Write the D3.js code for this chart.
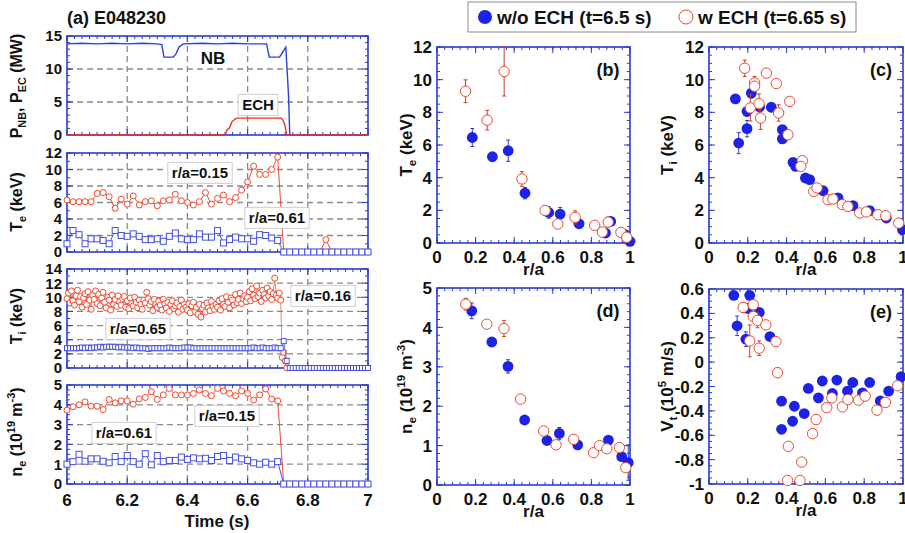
<!DOCTYPE html>
<html>
<head>
<meta charset="utf-8">
<script src="https://cdn.jsdelivr.net/npm/d3@7"></script>
<style>
body{margin:0;background:#fff}
text{font-family:"Liberation Sans",Arial,sans-serif;font-weight:bold;fill:#111}
</style>
</head>
<body>
<script>
// ---- (a) time traces, shot E048230 ----
const nbT = [6.0,6.05,6.1,6.15,6.2,6.25,6.3,6.315,6.322,6.353,6.362,6.372,6.386,6.45,6.5,6.55,6.6,6.663,6.672,6.706,6.716,6.727,6.736,6.74,7.0]
const nbV = [13.8,13.9,13.8,13.9,13.8,13.9,13.8,13.7,11.8,11.8,12.3,13.3,13.8,13.9,13.8,13.9,13.8,13.8,11.8,11.8,12.5,13.3,6,0,0]
const echT = [6.0,6.525,6.532,6.54,6.548,6.556,6.563,6.712,6.718,6.724,6.73,7.0]
const echV = [0,0,0.8,1.1,2.0,2.3,2.55,2.55,2.2,1.5,0,0]

// Te, ne sampled every 20 ms from 6.0 s
const t20Start = 6.0, t20Step = 0.02
const teCore = [6.3,6.1,6.1,6.1,6.1,7.1,7.2,6.7,5.3,6.4,5.8,6.8,5.7,6.1,6.2,5.6,6.2,6.3,7.0,6.2,6.0,5.7,6.1,7.2,5.8,6.5,6.9,6.1,6.6,7.5,8.5,10.4,9.4,9.4,10.0,11.5,
  0,0,0,0,0,0,0,1.5,0,0,0,0,0,0,0]
const teEdge = [1.0,2.6,2.1,1.0,1.6,1.6,1.4,1.0,2.6,2.0,1.9,2.2,1.9,1.5,1.5,1.6,1.3,1.9,2.3,1.6,1.5,1.5,2.2,1.8,1.8,2.6,1.1,1.5,1.8,1.6,1.6,1.3,2.1,2.0,1.7,1.4,
  0,0,0,0,0,0,0,0,0,0,0,0,0,0,0]
const neCore = [3.73,3.9,4.0,4.15,3.93,3.93,3.76,4.27,4.1,4.2,4.2,4.03,4.3,4.37,4.66,4.27,4.5,4.83,4.5,4.5,4.5,4.57,4.75,4.57,4.46,4.83,4.7,4.58,4.46,4.7,4.58,4.24,4.5,4.8,4.29,4.2,
  0,0,0,0,0,0,0,0,0,0,0,0,0,0,0]
const neEdge = [1.0,1.13,1.5,1.15,1.27,1.27,1.15,1.07,1.39,1.13,1.44,1.13,1.0,1.53,0.97,1.44,1.13,1.19,1.19,1.36,1.24,1.32,1.27,1.3,1.19,1.39,1.44,1.19,1.36,1.27,1.19,1.07,1.0,1.1,1.0,1.13,
  0,0,0,0,0,0,0,0,0,0,0,0,0,0,0]

// Ti core (r/a=0.16) every 5 ms, Ti edge (r/a=0.65) every 10 ms
const tiCoreStart = 6.0, tiCoreStep = 0.005
const tiCore = [
  9.8,10.6,9.2,10.9,9.5,8.9,10.2,11.0,9.4,10.1,8.6,9.9,10.5,9.0,10.8,9.6,8.3,10.3,9.7,10.9,
  9.1,10.4,8.8,9.9,10.7,9.3,8.5,10.0,9.6,8.2,10.3,9.0,9.7,8.7,10.2,9.4,8.9,9.8,10.1,8.6,
  9.5,8.4,9.9,9.1,8.8,10.0,9.3,8.5,9.6,9.0,8.3,9.6,9.2,10.7,9.8,8.9,9.4,8.1,9.7,9.0,
  8.6,9.4,8.9,8.2,9.7,9.1,8.5,9.3,8.0,9.0,9.5,8.4,8.8,9.2,7.9,8.7,9.6,8.3,9.0,8.6,
  8.2,9.1,7.8,8.8,9.3,8.0,8.6,7.6,9.0,7.2,8.4,8.9,7.9,9.2,8.5,8.1,9.4,8.7,8.3,9.0,
  8.6,9.5,8.2,9.8,9.0,8.7,10.1,9.3,8.5,9.9,9.6,8.9,10.4,9.2,9.7,10.6,9.1,9.8,10.2,9.4,
  10.0,10.8,9.5,11.2,10.3,9.8,11.6,10.1,10.6,9.4,11.0,10.4,9.9,11.3,10.2,10.8,9.7,10.5,12.7,10.3,9.9,10.6,9.6,
  1.5,2.2,1.0,0]
const tiEdgeStart = 6.0, tiEdgeStep = 0.01
const tiEdge = [
  2.8,2.8,2.8,2.8,2.8,2.9,2.8,2.9,2.8,2.9,
  2.9,3.0,2.9,3.0,3.0,3.0,3.0,2.9,3.0,2.9,
  2.9,2.9,2.8,2.9,2.8,2.8,2.8,2.7,2.8,2.8,
  2.8,2.8,2.8,2.8,2.9,2.8,2.8,2.8,2.8,2.9,
  2.9,2.9,2.8,2.8,2.8,2.8,2.8,2.8,2.8,2.8,
  2.8,2.8,2.8,2.8,2.8,2.8,2.8,2.8,2.8,2.8,
  2.8,2.8,2.9,2.8,2.8,2.9,2.8,2.8,2.8,2.9,
  2.8,2.8,3.8,1.0,
  0,0,0,0,0,0,0,0,0,0,0,0,0,0,0,0,0,0,0,0,0,0,0,0,0,0,0]

// ---- profiles vs r/a : blue = w/o ECH, red = w ECH ----
const teBlueR = [0.183,0.287,0.369,0.456,0.579,0.638,0.736,0.873,0.9,0.974,1.0]
const teBlue = [6.46,5.28,5.65,3.05,1.87,1.77,1.18,0.61,1.32,0.51,0.1]
const teBlueErr = [0.55,0.2,0.65,0.35,0.35,0.4,0,0,0,0,0]
const teRedR = [0.148,0.26,0.348,0.44,0.56,0.626,0.716,0.817,0.857,0.887,0.953,0.983]
const teRed = [9.29,7.52,10.5,3.92,1.99,1.16,1.57,1.08,0.67,1.28,0.65,0.35]
const teRedErr = [0.7,0.6,1.5,0.45,0.3,0,0.4,0,0,0.3,0,0]

const tiBlueR = [0.136,0.153,0.196,0.196,0.218,0.261,0.321,0.378,0.378,0.433,0.447,0.497,0.519,0.588,0.665,0.742,0.828,0.914,0.997]
const tiBlue = [8.82,6.12,7.0,8.06,9.18,8.33,8.31,6.94,6.37,4.94,4.69,3.98,3.88,3.2,2.76,2.29,1.98,1.53,0.82]
const tiBlueErr = [0,0.65,0.5,0.3,0.3,0,0,0,0,0,0,0,0,0,0,0,0,0,0]
const tiRedR = [0.184,0.235,0.235,0.213,0.258,0.266,0.296,0.347,0.359,0.416,0.407,0.481,0.473,0.54,0.557,0.613,0.639,0.687,0.716,0.777,0.811,0.871,0.911,0.978]
const tiRed = [10.7,9.8,9.6,8.27,8.53,7.65,10.4,9.76,7.96,8.67,6.63,5.04,4.69,3.16,3.37,2.65,2.69,2.35,2.24,1.84,1.9,1.73,1.67,1.22]
const tiRedErr = [0.5,0.4,0,0.8,0.6,0.7,0,0,0.5,0,0,0,0,0,0,0,0,0,0,0,0,0,0,0]

const neBlueR = [0.18,0.284,0.368,0.454,0.57,0.634,0.729,0.888,0.957,0.991]
const neBlue = [4.42,3.63,3.01,1.65,1.13,1.31,1.02,1.14,0.72,0.57]
const neBlueErr = [0.2,0,0.17,0,0,0.15,0,0,0,0.45]
const neRedR = [0.149,0.258,0.347,0.433,0.553,0.617,0.708,0.811,0.842,0.88,0.945,0.978]
const neRed = [4.59,4.08,3.97,2.18,1.37,1.02,1.16,0.82,1.0,0.92,0.95,0.44]
const neRedErr = [0.15,0,0.2,0,0,0,0,0,0,0,0,0]

const vtBlueR = [0.128,0.145,0.2,0.21,0.259,0.19,0.314,0.374,0.374,0.44,0.431,0.491,0.512,0.564,0.584,0.636,0.659,0.714,0.741,0.791,0.828,0.883,0.926,0.99]
const vtBlue = [0.548,0.298,0.44,0.548,0.408,0.188,0.21,-0.32,-0.551,-0.362,-0.485,-0.422,-0.216,-0.293,-0.155,-0.257,-0.147,-0.238,-0.167,-0.252,-0.167,-0.318,-0.238,-0.12]
const vtBlueErr = [0,0.08,0,0,0,0.06,0,0,0,0,0,0,0,0,0,0,0,0,0,0,0,0,0,0]
const vtRedR = [0.176,0.228,0.228,0.25,0.293,0.21,0.259,0.345,0.353,0.409,0.405,0.469,0.478,0.534,0.552,0.607,0.633,0.688,0.716,0.771,0.805,0.866,0.909,0.972]
const vtRed = [0.449,0.471,0.375,0.342,0.306,0.174,0.114,0.169,-0.087,-0.691,-0.971,-0.971,-0.82,-0.587,-0.471,-0.373,-0.293,-0.367,-0.307,-0.312,-0.279,-0.394,-0.331,-0.194]
const vtRedErr = [0.04,0,0,0.06,0,0.13,0.06,0,0.04,0,0,0,0,0,0,0,0,0,0,0,0,0,0,0]

const legendLabels = ["w/o ECH (t=6.5 s)", "w ECH (t=6.65 s)"]

// ---- styles ----
const frameCol = "#2b3cd0"
const blueMk = "#1c22e6", redMk = "#ea4a30"
const blueLn = "#4650e0", redLn = "#f04a32"

const svg = d3.select("body").append("svg").attr("width", 905).attr("height", 533)

const series = (start, step, vals) => vals.map((v, i) => [start + i * step, v])
const pairs = (xs, ys, es) => xs.map((x, i) => ({x, y: ys[i], e: es ? es[i] : 0}))
const fmt = v => String(+v.toFixed(2))

// text with sub / superscripts: parts = [[str, shift]] shift -1 sub, 1 sup
function rich(sel, parts, size) {
	let cur = 0
	parts.forEach(([s, sh]) => {
		const off = sh < 0 ? 4 : sh > 0 ? -7 : 0
		sel.append("tspan").attr("dy", off - cur).attr("font-size", sh ? size * 0.68 : size).text(s)
		cur = off
	})
}

function frame(x, y, o) {
	const g = svg.append("g")
	const [x0, x1] = x.range(), [yb, yt] = y.range()
	const xd = x.domain(), yd = y.domain()
	const xMaj = d3.range(xd[0], xd[1] + 1e-9, o.xStep)
	const yMaj = d3.range(yd[0], yd[1] + 1e-9, o.yStep)
	const xMin = d3.range(xd[0], xd[1] + 1e-9, o.xMinor)
	const yMin = d3.range(yd[0], yd[1] + 1e-9, o.yMinor)
	if (o.grid) {
		g.selectAll(".gx").data(xMaj.slice(1, -1)).enter().append("line")
			.attr("x1", d => x(d)).attr("x2", d => x(d)).attr("y1", yt).attr("y2", yb)
			.attr("stroke", "#8a8a8a").attr("stroke-width", 1.3).attr("stroke-dasharray", "6,4")
		g.selectAll(".gy").data(yMaj.slice(1, -1)).enter().append("line")
			.attr("y1", d => y(d)).attr("y2", d => y(d)).attr("x1", x0).attr("x2", x1)
			.attr("stroke", "#8a8a8a").attr("stroke-width", 1.3).attr("stroke-dasharray", "6,4")
	}
	const tk = g.append("g").attr("stroke", frameCol).attr("stroke-width", 1)
	const xt = (vals, len) => vals.forEach(v => {
		tk.append("line").attr("x1", x(v)).attr("x2", x(v)).attr("y1", yb).attr("y2", yb - len)
		tk.append("line").attr("x1", x(v)).attr("x2", x(v)).attr("y1", yt).attr("y2", yt + len)
	})
	const yt2 = (vals, len) => vals.forEach(v => {
		tk.append("line").attr("y1", y(v)).attr("y2", y(v)).attr("x1", x0).attr("x2", x0 + len)
		tk.append("line").attr("y1", y(v)).attr("y2", y(v)).attr("x1", x1).attr("x2", x1 - len)
	})
	xt(xMin, 3); yt2(yMin, 3); xt(xMaj, 6); yt2(yMaj, 6)
	g.append("rect").attr("x", x0).attr("y", yt).attr("width", x1 - x0).attr("height", yb - yt)
		.attr("fill", "none").attr("stroke", frameCol).attr("stroke-width", 1.6)
	g.selectAll(".yl").data(yMaj).enter().append("text")
		.attr("x", x0 - 5).attr("y", d => y(d)).attr("dy", "0.36em")
		.attr("text-anchor", "end").attr("font-size", o.yFont).text(fmt)
	if (o.xLabels) {
		g.selectAll(".xl").data(xMaj).enter().append("text")
			.attr("x", d => x(d)).attr("y", yb + o.xLabelDy).attr("text-anchor", "middle")
			.attr("font-size", o.xFont).text(fmt)
	}
	return g
}

function yTitle(cx, cy, parts, size) {
	const t = svg.append("text").attr("transform", `translate(${cx},${cy}) rotate(-90)`)
		.attr("text-anchor", "middle").attr("font-size", size)
	rich(t, parts, size)
}

function tag(x, y, txt) {
	const t = svg.append("text").attr("x", x).attr("y", y).attr("dy", "0.36em")
		.attr("text-anchor", "middle").attr("font-size", 15).text(txt)
	const b = t.node().getBBox()
	svg.insert("rect", () => t.node()).attr("x", b.x - 4).attr("y", b.y - 2)
		.attr("width", b.width + 8).attr("height", b.height + 4)
		.attr("fill", "#fff").attr("stroke", "#cfcfcf")
}

function trace(x, y, data, col, shape, size, lw) {
	const g = svg.append("g")
	g.append("path").datum(data).attr("fill", "none").attr("stroke", col).attr("stroke-width", lw)
		.attr("d", d3.line().x(d => x(d[0])).y(d => y(d[1])))
	if (shape === "circle") {
		g.selectAll("circle").data(data).enter().append("circle")
			.attr("cx", d => x(d[0])).attr("cy", d => y(d[1])).attr("r", size / 2)
			.attr("fill", "#fff").attr("stroke", col).attr("stroke-width", 1)
	} else if (shape === "square") {
		g.selectAll("rect").data(data).enter().append("rect")
			.attr("x", d => x(d[0]) - size / 2).attr("y", d => y(d[1]) - size / 2)
			.attr("width", size).attr("height", size)
			.attr("fill", "#fff").attr("stroke", col).attr("stroke-width", 1)
	}
}

// ---- left column ----
const xTime = d3.scaleLinear().domain([6, 7]).range([67, 368])
const leftOpts = {xStep: 0.2, xMinor: 0.025, yFont: 15, xFont: 17, grid: true}

const yP = d3.scaleLinear().domain([0, 15]).range([135, 36])
frame(xTime, yP, {...leftOpts, yStep: 5, yMinor: 1})
trace(xTime, yP, nbT.map((t, i) => [t, nbV[i]]), "#2a40e0", null, 0, 1.4)
trace(xTime, yP, echT.map((t, i) => [t, echV[i]]), "#ee3322", null, 0, 1.4)
svg.append("text").attr("x", 213).attr("y", 58).attr("dy", "0.36em").attr("text-anchor", "middle").attr("font-size", 17).text("NB")
tag(258, 105, "ECH")
svg.select("text:last-of-type")
yTitle(22, 86, [["P", 0], ["NB", -1], [", P", 0], ["EC", -1], ["  (MW)", 0]], 16)

const yTe = d3.scaleLinear().domain([0, 12]).range([252, 153])
frame(xTime, yTe, {...leftOpts, yStep: 2, yMinor: 1})
trace(xTime, yTe, series(t20Start, t20Step, teCore), redLn, "circle", 6, 1)
trace(xTime, yTe, series(t20Start, t20Step, teEdge), blueLn, "square", 6, 1)
tag(200, 173, "r/a=0.15")
tag(277, 218, "r/a=0.61")
yTitle(22, 202, [["T", 0], ["e", -1], [" (keV)", 0]], 16)

const yTi = d3.scaleLinear().domain([0, 14]).range([368, 269])
frame(xTime, yTi, {...leftOpts, yStep: 2, yMinor: 1})
trace(xTime, yTi, series(tiCoreStart, tiCoreStep, tiCore), redLn, "circle", 6, 0.7)
trace(xTime, yTi, series(tiEdgeStart, tiEdgeStep, tiEdge), blueLn, "square", 5, 0.8)
tag(138, 329, "r/a=0.65")
tag(323, 296, "r/a=0.16")
yTitle(22, 316, [["T", 0], ["i", -1], [" (keV)", 0]], 16)

const yNe = d3.scaleLinear().domain([0, 5]).range([484, 385])
frame(xTime, yNe, {...leftOpts, yStep: 1, yMinor: 0.25, xLabels: true, xLabelDy: 22})
trace(xTime, yNe, series(t20Start, t20Step, neCore), redLn, "circle", 6, 1)
trace(xTime, yNe, series(t20Start, t20Step, neEdge), blueLn, "square", 6, 1)
tag(227, 416, "r/a=0.15")
tag(124, 433, "r/a=0.61")
yTitle(22, 432, [["n", 0], ["e", -1], [" (10", 0], ["19", 1], [" m", 0], ["-3", 1], [")", 0]], 16)
svg.append("text").attr("x", 217).attr("y", 527).attr("text-anchor", "middle").attr("font-size", 17).text("Time (s)")
svg.append("text").attr("x", 67).attr("y", 24).attr("font-size", 18).text("(a) E048230")

// ---- right profiles ----
function profile(x, y, blue, red, o) {
	frame(x, y, {xStep: 0.2, xMinor: 0.04, yStep: o.yStep, yMinor: o.yMinor, yFont: 17, xFont: 17, xLabels: true, xLabelDy: 20})
	const g = svg.append("g")
	const eb = (data, col) => {
		const d = data.filter(p => p.e > 0)
		g.selectAll(null).data(d).enter().append("path")
			.attr("d", p => `M${x(p.x)},${y(p.y - p.e)}V${y(p.y + p.e)}M${x(p.x) - 2},${y(p.y - p.e)}h4M${x(p.x) - 2},${y(p.y + p.e)}h4`)
			.attr("stroke", col).attr("stroke-width", 1).attr("fill", "none")
	}
	eb(blue, "#3040c0")
	g.selectAll(null).data(blue).enter().append("circle")
		.attr("cx", p => x(p.x)).attr("cy", p => y(p.y)).attr("r", 5.4).attr("fill", blueMk)
	eb(red, "#c8402c")
	g.selectAll(null).data(red).enter().append("circle")
		.attr("cx", p => x(p.x)).attr("cy", p => y(p.y)).attr("r", 5.2)
		.attr("fill", "#fff").attr("stroke", redMk).attr("stroke-width", 1)
	const [x0, x1] = x.range()
	const [yb, yt] = y.range()
	svg.append("text").attr("x", x1 - 22).attr("y", yt + 23).attr("dy", "0.36em")
		.attr("text-anchor", "middle").attr("font-size", 18).text(o.tag)
	svg.append("text").attr("x", (x0 + x1) / 2).attr("y", yb + 32).attr("text-anchor", "middle")
		.attr("font-size", 17).text("r/a")
	yTitle(o.titleX, (yb + yt) / 2, o.title, 17)
}

const xB = d3.scaleLinear().domain([0, 1]).range([437, 630])
const xC = d3.scaleLinear().domain([0, 1]).range([709, 903])

profile(xB, d3.scaleLinear().domain([0, 12]).range([243, 47]),
	pairs(teBlueR, teBlue, teBlueErr), pairs(teRedR, teRed, teRedErr),
	{yStep: 2, yMinor: 0.5, tag: "(b)", titleX: 412, title: [["T", 0], ["e", -1], [" (keV)", 0]]})
profile(xC, d3.scaleLinear().domain([0, 12]).range([243, 47]),
	pairs(tiBlueR, tiBlue, tiBlueErr), pairs(tiRedR, tiRed, tiRedErr),
	{yStep: 2, yMinor: 0.5, tag: "(c)", titleX: 673, title: [["T", 0], ["i", -1], [" (keV)", 0]]})
profile(xB, d3.scaleLinear().domain([0, 5]).range([485, 288]),
	pairs(neBlueR, neBlue, neBlueErr), pairs(neRedR, neRed, neRedErr),
	{yStep: 1, yMinor: 0.2, tag: "(d)", titleX: 412, title: [["n", 0], ["e", -1], [" (10", 0], ["19", 1], [" m", 0], ["-3", 1], [")", 0]]})
profile(xC, d3.scaleLinear().domain([-1, 0.6]).range([484, 289]),
	pairs(vtBlueR, vtBlue, vtBlueErr), pairs(vtRedR, vtRed, vtRedErr),
	{yStep: 0.2, yMinor: 0.05, tag: "(e)", titleX: 673, title: [["V", 0], ["t", -1], [" (10", 0], ["5", 1], [" m/s)", 0]]})

// ---- legend ----
const lg = svg.append("g")
lg.append("rect").attr("x", 468).attr("y", 2).attr("width", 388).attr("height", 30)
	.attr("fill", "#fff").attr("stroke", "#8c8c8c").attr("stroke-width", 1)
lg.append("circle").attr("cx", 485).attr("cy", 17).attr("r", 7).attr("fill", blueMk)
lg.append("text").attr("x", 497).attr("y", 24).attr("font-size", 19).text(legendLabels[0])
lg.append("circle").attr("cx", 686).attr("cy", 17).attr("r", 7).attr("fill", "#fff").attr("stroke", redMk)
lg.append("text").attr("x", 698).attr("y", 24).attr("font-size", 19).text(legendLabels[1])
</script>
</body>
</html>
